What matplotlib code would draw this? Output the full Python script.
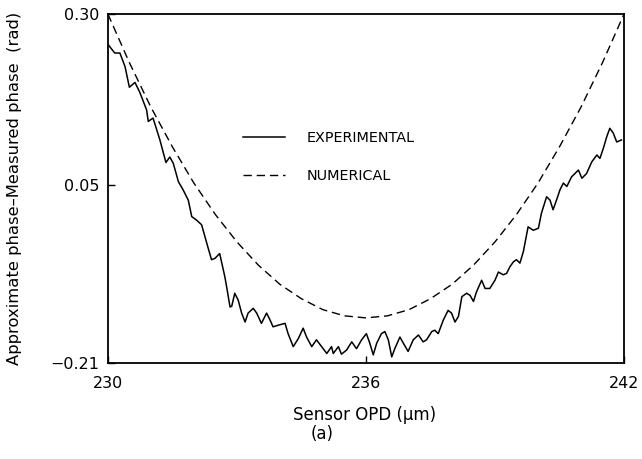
import matplotlib

matplotlib.use("Agg")
import matplotlib.pyplot as plt

# Numerical (dashed) curve
num_x = [230.0, 230.5, 231.0, 231.5, 232.0, 232.5, 233.0, 233.5, 234.0, 234.5, 235.0, 235.5,
         236.0, 236.5, 237.0, 237.5, 238.0, 238.5, 239.0, 239.5, 240.0, 240.5, 241.0, 241.5, 242.0]
num_y = [0.300, 0.229, 0.164, 0.106, 0.053, 0.007, -0.033, -0.067, -0.095, -0.116, -0.132, -0.141,
         -0.144, -0.141, -0.132, -0.116, -0.095, -0.067, -0.033, 0.007, 0.053, 0.106, 0.164, 0.229, 0.300]

# Experimental (solid) curve
exp_x = [230.01, 230.16, 230.28, 230.40, 230.50, 230.63, 230.74, 230.90, 230.94, 231.05,
         231.21, 231.35, 231.44, 231.52, 231.64, 231.75, 231.87, 231.95, 232.06, 232.18,
         232.30, 232.41, 232.49, 232.60, 232.72, 232.76, 232.84, 232.88, 232.95, 233.03,
         233.11, 233.19, 233.26, 233.38, 233.46, 233.57, 233.69, 233.77, 233.84, 234.00,
         234.12, 234.19, 234.31, 234.43, 234.54, 234.62, 234.74, 234.85, 234.97, 235.09,
         235.20, 235.24, 235.36, 235.43, 235.55, 235.67, 235.78, 235.90, 236.01, 236.09,
         236.17, 236.25, 236.36, 236.44, 236.52, 236.60, 236.67, 236.79, 236.87, 236.98,
         237.10, 237.22, 237.33, 237.41, 237.53, 237.60, 237.68, 237.80, 237.91, 237.99,
         238.07, 238.15, 238.23, 238.34, 238.42, 238.50, 238.57, 238.69, 238.77, 238.88,
         239.00, 239.08, 239.19, 239.27, 239.35, 239.43, 239.50, 239.58, 239.66, 239.77,
         239.89, 240.01, 240.08, 240.20, 240.28, 240.35, 240.43, 240.51, 240.59, 240.67,
         240.78, 240.94, 241.02, 241.13, 241.25, 241.37, 241.44, 241.52, 241.60, 241.67,
         241.75, 241.83, 241.94]
exp_y = [0.255, 0.243, 0.243, 0.223, 0.193, 0.200, 0.186, 0.160, 0.143, 0.148,
         0.116, 0.083, 0.091, 0.082, 0.055, 0.043, 0.028, 0.004, -0.001, -0.008,
         -0.035, -0.059, -0.057, -0.050, -0.084, -0.098, -0.128, -0.127, -0.108, -0.118,
         -0.137, -0.150, -0.137, -0.130, -0.137, -0.152, -0.137, -0.147, -0.157, -0.154,
         -0.152, -0.167, -0.186, -0.174, -0.159, -0.172, -0.186, -0.176, -0.186, -0.196,
         -0.186, -0.196, -0.186, -0.197, -0.191, -0.179, -0.189, -0.176, -0.167, -0.181,
         -0.198, -0.181, -0.167, -0.164, -0.176, -0.201, -0.189, -0.172, -0.181, -0.193,
         -0.176, -0.169, -0.179, -0.176, -0.164, -0.162, -0.167, -0.147, -0.133, -0.137,
         -0.150, -0.142, -0.113, -0.108, -0.111, -0.120, -0.106, -0.089, -0.101, -0.101,
         -0.089, -0.077, -0.081, -0.079, -0.069, -0.062, -0.059, -0.064, -0.047, -0.011,
         -0.016, -0.013, 0.009, 0.033, 0.028, 0.014, 0.028, 0.043, 0.053, 0.048,
         0.062, 0.072, 0.060, 0.067, 0.084, 0.094, 0.089, 0.104, 0.121, 0.133,
         0.126, 0.113, 0.116]

x_ticks = [230, 236, 242]
y_ticks = [-0.21, 0.05, 0.30]
y_tick_labels = ["\u22120.21", "0.05", "0.30"]

plt.rcParams["font.family"] = ["DejaVu Sans"]

fig = plt.figure(figsize=(6.42, 4.59), dpi=100)
ax = fig.add_axes([0.168, 0.209, 0.804, 0.7605])

ax.plot(exp_x, exp_y, color="black", lw=1.1, label="EXPERIMENTAL")
ax.plot(num_x, num_y, color="black", lw=1.0, dashes=(6, 3.5), label="NUMERICAL")

ax.set_xlim(230, 242)
ax.set_ylim(-0.21, 0.30)
ax.set_xticks(x_ticks)
ax.set_xticklabels([str(t) for t in x_ticks])
ax.set_yticks(y_ticks)
ax.set_yticklabels(y_tick_labels)
ax.tick_params(direction="in", length=5, width=1, labelsize=11.5)
ax.tick_params(axis="x", pad=9)
ax.tick_params(axis="y", pad=6)
for sp in ax.spines.values():
    sp.set_linewidth(1.3)

ax.legend(loc="upper left", bbox_to_anchor=(0.262, 0.665), frameon=False,
          fontsize=10.4, handlelength=2.9, handletextpad=1.5, labelspacing=1.65,
          borderpad=0, borderaxespad=0)

fig.text(365 / 642, 1 - 415 / 459, "Sensor OPD (\u03bcm)", ha="center", va="center", fontsize=12)
fig.text(322 / 642, 1 - 434 / 459, "(a)", ha="center", va="center", fontsize=12)
fig.text(15 / 642, 1 - 188 / 459, "Approximate phase\u2013Measured phase  (rad)",
         ha="center", va="center", rotation=90, fontsize=11.8)

fig.savefig("out.png", dpi=100)
